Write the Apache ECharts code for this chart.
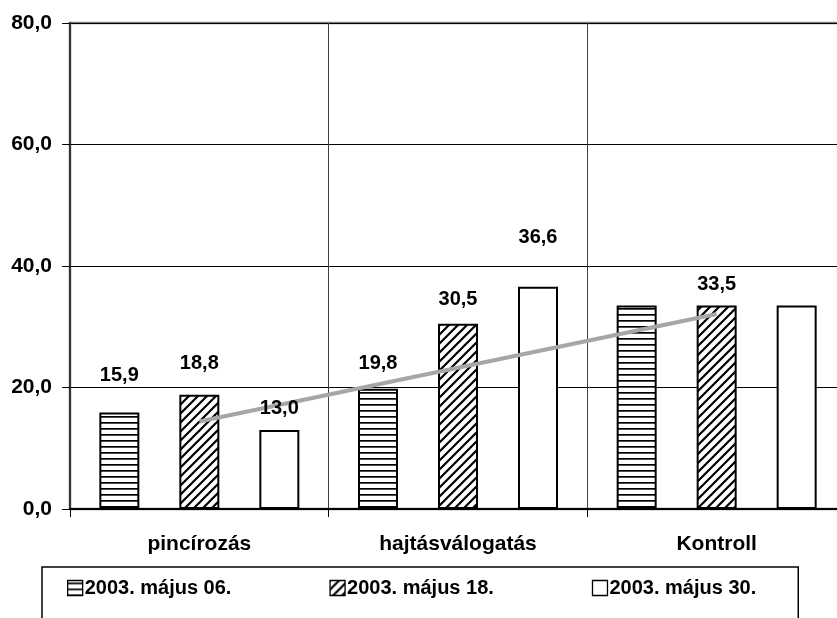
<!DOCTYPE html>
<html>
<head>
<meta charset="utf-8">
<script src="https://cdn.jsdelivr.net/npm/echarts@6/dist/echarts.min.js"></script>
<style>
html,body{margin:0;padding:0;background:#fff;}
#chart{width:837px;height:618px;}
</style>
</head>
<body>
<div id="chart"></div>
<script>
// ---- data ----
var categories = ['pincírozás', 'hajtásválogatás', 'Kontroll'];
var seriesNames = ['2003. május 06.', '2003. május 18.', '2003. május 30.'];
var valuesMay06 = [15.9, 19.8, 33.5];
var valuesMay18 = [18.8, 30.5, 33.5];
var valuesMay30 = [13.0, 36.6, 33.5];
var trendValues = [14.4, null, 32.1];
var yMin = 0, yMax = 80, yStep = 20;

// which bars carry a value label
var showLabelMay06 = [true, true, false];
var showLabelMay18 = [true, true, true];
var showLabelMay30 = [true, true, false];

// ---- styling helpers ----
var FONT = "'Liberation Sans', Arial, sans-serif";
function fmt(v) { return v.toFixed(1).replace('.', ','); }

function stripePattern() {
  var c = document.createElement('canvas');
  c.width = 8; c.height = 6;
  var g = c.getContext('2d');
  g.fillStyle = '#fff'; g.fillRect(0, 0, 8, 6);
  g.fillStyle = '#000'; g.fillRect(0, 2, 8, 1.7);
  return { image: c, repeat: 'repeat' };
}
function hatchPattern() {
  var s = 9;
  var c = document.createElement('canvas');
  c.width = s; c.height = s;
  var g = c.getContext('2d');
  g.fillStyle = '#fff'; g.fillRect(0, 0, s, s);
  g.strokeStyle = '#000'; g.lineWidth = 2.2; g.lineCap = 'square';
  g.beginPath();
  g.moveTo(0, s); g.lineTo(s, 0);
  g.moveTo(-2, 2); g.lineTo(2, -2);
  g.moveTo(s - 2, s + 2); g.lineTo(s + 2, s - 2);
  g.stroke();
  return { image: c, repeat: 'repeat' };
}

var labelDist = {
  may06: [27, 15, 0],
  may18: [21, 14, 11],
  may30: [12, 39, 0]
};

function buildLabelData(vals, shows, dists) {
  return vals.map(function (v, i) {
    return {
      value: v,
      label: { show: shows[i], distance: dists[i] }
    };
  });
}

var labelStyle = {
  position: 'top',
  formatter: function (p) { return fmt(p.value); },
  color: '#000',
  fontFamily: FONT,
  fontWeight: 'bold',
  fontSize: 20
};

function barSeries(name, vals, fill) {
  return {
    name: name,
    type: 'bar',
    xAxisIndex: 0,
    barWidth: 40,
    barGap: '100%',
    data: vals,
    itemStyle: { color: fill, borderColor: '#000', borderWidth: 2 },
    emphasis: { disabled: true },
    animation: false,
    z: 2
  };
}
// label-only bars on a hidden twin axis, drawn above the trend line
function labelSeries(name, vals, shows, dists) {
  return {
    name: name + ' (címke)',
    type: 'bar',
    xAxisIndex: 1,
    barWidth: 40,
    barGap: '100%',
    data: buildLabelData(vals, shows, dists),
    itemStyle: { color: 'rgba(0,0,0,0)', borderWidth: 0 },
    label: labelStyle,
    silent: true,
    emphasis: { disabled: true },
    animation: false,
    z: 5
  };
}

var chart = echarts.init(document.getElementById('chart'), null, { renderer: 'canvas' });
chart.setOption({
  backgroundColor: '#fff',
  animation: false,
  grid: {
    left: 70, width: 776, top: 23, height: 486,
    outerBoundsMode: 'none',
    containLabel: false,
    show: true, borderColor: '#808080', borderWidth: 2.5, backgroundColor: 'transparent'
  },
  xAxis: [{
    type: 'category',
    data: categories,
    boundaryGap: true,
    axisLine: { lineStyle: { color: '#000', width: 2 } },
    axisTick: { show: true, length: 8, lineStyle: { color: '#000', width: 1 } },
    splitLine: { show: true, lineStyle: { color: '#404040', width: 1 } },
    axisLabel: {
      color: '#000', fontFamily: FONT, fontWeight: 'bold', fontSize: 21, margin: 25
    }
  }, {
    type: 'category',
    data: categories,
    boundaryGap: true,
    position: 'bottom',
    show: false
  }],
  yAxis: {
    type: 'value',
    min: yMin, max: yMax, interval: yStep,
    axisLine: { show: true, lineStyle: { color: '#333', width: 2 } },
    axisTick: { show: true, length: 8, lineStyle: { color: '#000', width: 1 } },
    splitLine: { show: true, lineStyle: { color: '#000', width: 1 } },
    axisLabel: {
      color: '#000', fontFamily: FONT, fontWeight: 'bold', fontSize: 21, margin: 18,
      formatter: function (v) { return fmt(v); }
    }
  },
  legend: {
    data: seriesNames,
    left: 42, top: 567,
    padding: [11, 42, 40, 25],
    itemWidth: 15, itemHeight: 15, itemGap: 98,
    icon: 'rect',
    borderColor: '#000', borderWidth: 1.5,
    itemStyle: { borderColor: '#000', borderWidth: 1.3 },
    textStyle: { color: '#000', fontFamily: FONT, fontWeight: 'bold', fontSize: 20, padding: [0, 0, 0, -3] },
    selectedMode: false
  },
  series: [
    barSeries(seriesNames[0], valuesMay06, stripePattern()),
    barSeries(seriesNames[1], valuesMay18, hatchPattern()),
    barSeries(seriesNames[2], valuesMay30, '#fff'),
    {
      name: 'trend',
      type: 'line',
      data: trendValues,
      connectNulls: true,
      symbol: 'none',
      lineStyle: { color: '#A6A6A6', width: 4 },
      emphasis: { disabled: true },
      animation: false,
      z: 3
    },
    labelSeries(seriesNames[0], valuesMay06, showLabelMay06, labelDist.may06),
    labelSeries(seriesNames[1], valuesMay18, showLabelMay18, labelDist.may18),
    labelSeries(seriesNames[2], valuesMay30, showLabelMay30, labelDist.may30)
  ]
});
</script>
</body>
</html>
